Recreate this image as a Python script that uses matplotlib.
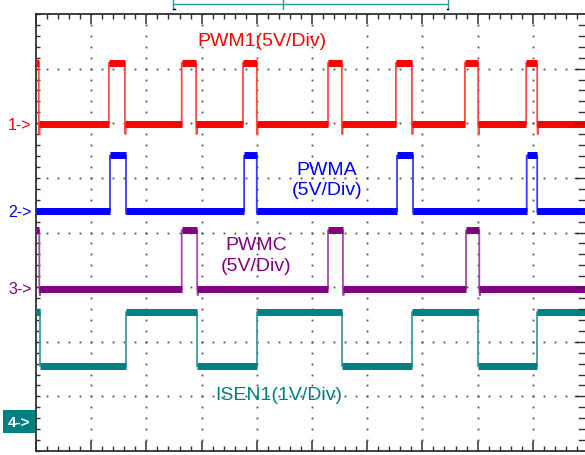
import matplotlib
matplotlib.use("Agg")
import matplotlib.pyplot as plt
import numpy as np

plt.rcParams['font.family'] = ['Liberation Sans', 'DejaVu Sans']

# time in divisions (10 div across), levels in divisions (0 = screen centre)
ch1_start = 3.11              # PWM1 starts high
ch1_rise = [1.32, 2.64, 3.75, 5.29, 6.52, 7.77, 8.88]
ch1_fall = [0.05, 1.61, 2.90, 4.00, 5.54, 6.81, 8.01, 9.08]
ch1_lo, ch1_hi = 1.98, 3.11

ch2_start = 0.385
ch2_rise = [1.34, 3.77, 6.54, 8.89]
ch2_fall = [1.63, 4.00, 6.83, 9.08]
ch2_lo, ch2_hi = 0.385, 1.41

ch3_start = 0.04
ch3_rise = [2.64, 5.29, 7.79]
ch3_fall = [0.06, 2.92, 5.56, 8.03]
ch3_lo, ch3_hi = -1.03, 0.04

ch4_start = -1.45
ch4_rise = [1.63, 4.00, 6.81, 9.08]
ch4_fall = [0.07, 2.92, 5.54, 8.01]
ch4_lo, ch4_hi = -2.44, -1.45

# ground markers
marker_lvl = [1.98, 0.385, -1.03, -3.46]
marker_txt = ['1->', '2->', '3->', '4->']

colors = ['#ff0000', '#0000ff', '#800080', '#008080']
edge_colors = ['#ff4a4a', '#3a3aff', '#a848a8', '#38a0a0']


def build(start, rise, fall, lo, hi, spike=0.0):
    ev = sorted([(t, hi) for t in rise] + [(t, lo) for t in fall])
    xs, ys = [0.0], [start]
    segs = []
    cur, t0 = start, 0.0
    for t, lev in ev:
        segs.append((cur, t0, t))
        xs += [t, t]
        ys += [cur, lev]
        if spike and lev == lo:
            xs += [t + 0.01, t + 0.02]
            ys += [lo - spike, lo]
        cur, t0 = lev, t
    xs.append(10.2)
    ys.append(cur)
    segs.append((cur, t0, 10.2))
    return xs, ys, segs


fig = plt.figure(figsize=(5.85, 4.56), dpi=100)
ax = fig.add_axes([36 / 585, 4 / 456, 552 / 585, 437 / 456])
ax.set_xlim(0, 10)
ax.set_ylim(-4, 4)

# dotted graticule
for gx in range(1, 10):
    yy = np.arange(-4, 4.01, 0.2)
    ax.plot([gx] * len(yy), yy, ls='none', marker='s', ms=1.3, mew=0,
            color='#505050', zorder=1)
for gy in range(-3, 4):
    xx = np.arange(0, 10.01, 0.2)
    ax.plot(xx, [gy] * len(xx), ls='none', marker='s', ms=1.3, mew=0,
            color='#505050', zorder=1)

chans = [
    (ch1_start, ch1_rise, ch1_fall, ch1_lo, ch1_hi, 0.18),
    (ch2_start, ch2_rise, ch2_fall, ch2_lo, ch2_hi, 0.05),
    (ch3_start, ch3_rise, ch3_fall, ch3_lo, ch3_hi, 0.12),
    (ch4_start, ch4_rise, ch4_fall, ch4_lo, ch4_hi, 0.0),
]
for i, (s, r, f, lo, hi, sp) in enumerate(chans):
    xs, ys, segs = build(s, r, f, lo, hi, sp)
    ax.plot(xs, ys, color=edge_colors[i], lw=1.3, zorder=3)
    for lev, a, b in segs:
        ax.hlines(lev, a, b, color=colors[i], lw=5.0, zorder=4)

# channel labels
ax.text(4.09, 3.52, 'PWM1(5V/Div)', color=colors[0], fontsize=14,
        ha='center', va='center')
ax.text(5.27, 0.97, 'PWMA\n(5V/Div)', color=colors[1], fontsize=14,
        ha='center', va='center', linespacing=1.25)
ax.text(3.99, -0.41, 'PWMC\n(5V/Div)', color=colors[2], fontsize=14,
        ha='center', va='center', linespacing=1.25)
ax.text(4.40, -2.97, 'ISEN1(1V/Div)', color=colors[3], fontsize=14,
        ha='center', va='center')

# ground markers on the left
for i in range(3):
    ax.text(-0.08, marker_lvl[i], marker_txt[i], color=colors[i], fontsize=11.5,
            ha='right', va='center', clip_on=False)
ax.text(-0.1, marker_lvl[3], marker_txt[3], color='white', fontsize=11,
        fontweight='bold', ha='right', va='center', clip_on=False,
        bbox=dict(boxstyle='square,pad=0.3', fc='#008080', ec='none'))

# record view bracket on top
ax.plot([2.48, 7.46], [4.19, 4.19], color='#2a9a9a', lw=1.0, clip_on=False)
for bx in [2.48, 4.47, 7.46]:
    ax.plot([bx, bx], [4.30, 4.10], color='#2a9a9a', lw=1.0, clip_on=False)
ax.plot([2.48, 2.52], [4.10, 4.10], color='black', lw=1.0, clip_on=False)
ax.plot([7.44, 7.47], [4.10, 4.10], color='black', lw=1.0, clip_on=False)

# spines and ticks
for sp in ['left', 'top', 'bottom', 'right']:
    ax.spines[sp].set_color('#303030')
    ax.spines[sp].set_linewidth(1.3)
ax.set_xticks(np.arange(0, 11, 1))
ax.set_xticks(np.arange(0, 10.01, 0.2), minor=True)
ax.set_yticks(np.arange(-4, 5, 1))
ax.set_yticks(np.arange(-4, 4.01, 0.2), minor=True)
ax.tick_params(axis='x', which='major', direction='in', length=7.5, width=1.1,
               top=True, bottom=True, labelbottom=False, color='#303030')
ax.tick_params(axis='x', which='minor', direction='in', length=3.6, width=1.0,
               top=True, bottom=True, color='#303030')
ax.tick_params(axis='y', which='both', direction='in', length=3.2, width=1.0,
               left=True, right=False, labelleft=False, color='#303030')
# right edge ticks (spine itself is just off screen)
for yv in np.arange(-3.8, 4.0, 0.2):
    ln = 0.24 if abs(yv - round(yv)) < 1e-6 else 0.17
    ax.plot([10 - ln, 10], [yv, yv], color='#303030', lw=1.0, zorder=5)

fig.savefig('out.png', dpi=100, facecolor='white')
